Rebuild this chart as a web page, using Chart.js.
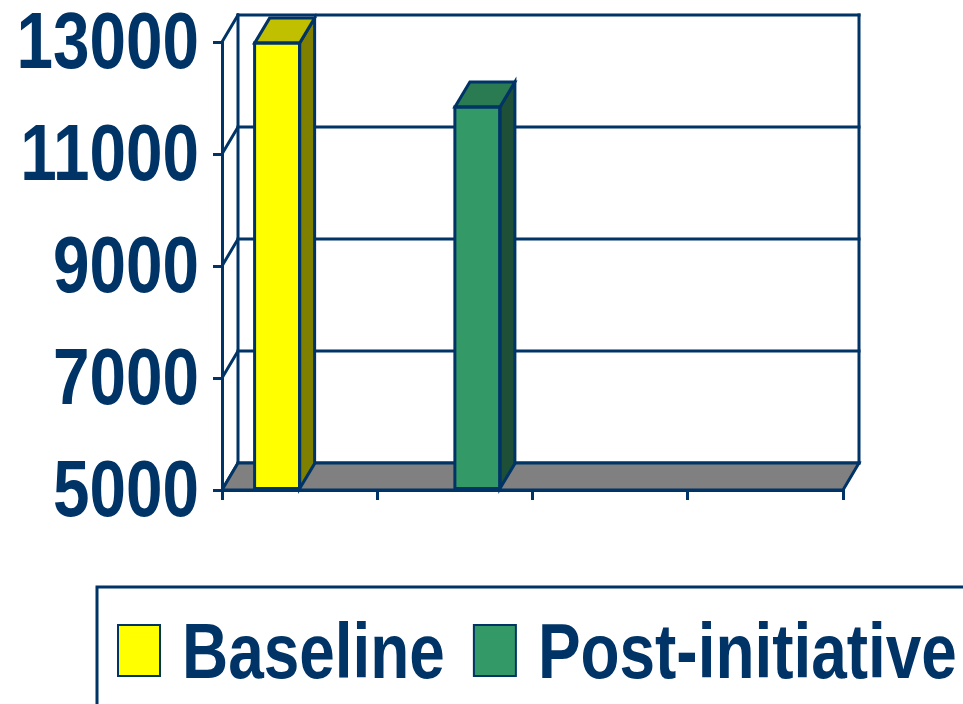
<!DOCTYPE html>
<html>
<head>
<meta charset="utf-8">
<script src="https://cdn.jsdelivr.net/npm/chart.js@4/dist/chart.umd.min.js"></script>
<style>
  html, body { margin: 0; padding: 0; background: #fff; }
  #wrap { width: 963px; height: 704px; position: relative; }
</style>
</head>
<body>
<div id="wrap"><canvas id="chart"></canvas></div>
<script>
// chart data
const categories = ['', '', '', ''];
const seriesNames = ['Baseline', 'Post-initiative'];
const baselineValues = [12980, null, null, null];
const postValues = [null, 11840, null, null];
const yTicks = [5000, 7000, 9000, 11000, 13000];

const navy = '#003366';
const FONT = '"Liberation Sans", Arial, sans-serif';
const LINE = 3;

// depth offsets for the 3d look
const floorDepth = { dx: 16, dy: 27 };
const barDepth = { dx: 15, dy: 25 };

const faceColors = [
  { front: '#FFFF00', top: '#C0C000', side: '#808000' },
  { front: '#339966', top: '#2A7A52', side: '#1E4F37' }
];

function poly(ctx, pts, fill) {
  ctx.beginPath();
  ctx.moveTo(pts[0][0], pts[0][1]);
  for (let i = 1; i < pts.length; i++) ctx.lineTo(pts[i][0], pts[i][1]);
  ctx.closePath();
  if (fill) { ctx.fillStyle = fill; ctx.fill(); }
  ctx.stroke();
}

function seg(ctx, x1, y1, x2, y2) {
  ctx.beginPath();
  ctx.moveTo(x1, y1);
  ctx.lineTo(x2, y2);
  ctx.stroke();
}

// condensed text, returns drawn width
function narrowText(ctx, text, x, y, align, squeeze) {
  const w = ctx.measureText(text).width * squeeze;
  ctx.save();
  ctx.translate(align === 'right' ? x - w : x, y);
  ctx.scale(squeeze, 1);
  ctx.textAlign = 'left';
  ctx.fillText(text, 0, 0);
  ctx.restore();
  return w;
}

// back wall, side wall and floor
const walls = {
  id: 'walls',
  beforeDatasetsDraw(chart) {
    const { ctx, chartArea: a, scales: { y } } = chart;
    const { dx, dy } = floorDepth;
    ctx.save();
    ctx.strokeStyle = navy;
    ctx.lineWidth = LINE;
    ctx.lineCap = 'square';
    yTicks.forEach(v => {
      const py = y.getPixelForValue(v);
      seg(ctx, a.left, py, a.left + dx, py - dy);
      seg(ctx, a.left + dx, py - dy, a.right + dx, py - dy);
    });
    const top = y.getPixelForValue(yTicks[yTicks.length - 1]) - dy;
    const bot = a.bottom - dy;
    seg(ctx, a.left + dx, top, a.left + dx, bot);
    seg(ctx, a.right + dx, top, a.right + dx, bot);
    ctx.lineJoin = 'miter';
    poly(ctx, [[a.left, a.bottom], [a.right, a.bottom], [a.right + dx, bot], [a.left + dx, bot]], '#808080');
    ctx.restore();
  }
};

// top and side faces of the columns
const columns3d = {
  id: 'columns3d',
  afterDatasetsDraw(chart) {
    const { ctx } = chart;
    const { dx, dy } = barDepth;
    ctx.save();
    ctx.strokeStyle = navy;
    ctx.lineWidth = LINE;
    ctx.lineJoin = 'miter';
    chart.data.datasets.forEach((ds, i) => {
      const meta = chart.getDatasetMeta(i);
      meta.data.forEach((el, j) => {
        if (ds.data[j] == null) return;
        const p = el.getProps(['x', 'y', 'base', 'width'], true);
        const l = p.x - p.width / 2, r = p.x + p.width / 2;
        const c = faceColors[i];
        poly(ctx, [[r, p.y], [r + dx, p.y - dy], [r + dx, p.base - dy], [r, p.base]], c.side);
        poly(ctx, [[l, p.y], [l + dx, p.y - dy], [r + dx, p.y - dy], [r, p.y]], c.top);
        poly(ctx, [[l, p.y], [r, p.y], [r, p.base], [l, p.base]], null);
      });
    });
    ctx.restore();
  }
};

// value labels on the front axis
const axisLabels = {
  id: 'axisLabels',
  afterDraw(chart) {
    const { ctx, scales: { y } } = chart;
    ctx.save();
    ctx.fillStyle = navy;
    ctx.font = 'bold 80px ' + FONT;
    ctx.textBaseline = 'alphabetic';
    y.ticks.forEach(t => {
      narrowText(ctx, String(t.value), 199, y.getPixelForValue(t.value) + 26, 'right', 0.82);
    });
    ctx.restore();
  }
};

// boxed legend under the plot
const boxLegend = {
  id: 'boxLegend',
  afterDraw(chart) {
    const { ctx } = chart;
    ctx.save();
    ctx.strokeStyle = navy;
    ctx.lineWidth = LINE;
    ctx.beginPath();
    ctx.moveTo(97, 720);
    ctx.lineTo(97, 587);
    ctx.lineTo(980, 587);
    ctx.stroke();

    ctx.font = 'bold 77px ' + FONT;
    ctx.textBaseline = 'alphabetic';
    let x = 118;
    chart.data.datasets.forEach(ds => {
      ctx.fillStyle = ds.backgroundColor;
      ctx.lineWidth = 2;
      ctx.fillRect(x, 625, 42, 51);
      ctx.strokeRect(x, 625, 42, 51);
      ctx.fillStyle = navy;
      const w = narrowText(ctx, ds.label, x + 64, 678, 'left', 0.83);
      x += 64 + w + 29;
    });
    ctx.restore();
  }
};

new Chart(document.getElementById('chart'), {
  type: 'bar',
  data: {
    labels: categories,
    datasets: [
      { label: seriesNames[0], data: baselineValues, backgroundColor: faceColors[0].front },
      { label: seriesNames[1], data: postValues, backgroundColor: faceColors[1].front }
    ]
  },
  options: {
    responsive: true,
    maintainAspectRatio: false,
    animation: false,
    events: [],
    layout: { padding: { top: 42, right: 120, bottom: 204, left: 0 } },
    datasets: {
      bar: { categoryPercentage: 0.58, barPercentage: 1, borderWidth: 0, base: yTicks[0] }
    },
    plugins: {
      legend: { display: false },
      tooltip: { enabled: false }
    },
    scales: {
      x: {
        grid: { drawOnChartArea: false, drawTicks: true, tickLength: 10, color: navy, lineWidth: LINE, offset: true },
        border: { display: true, color: navy, width: LINE },
        ticks: { display: false },
        afterFit: s => { s.height = 10; }
      },
      y: {
        min: 5000,
        max: 13000,
        afterBuildTicks: s => { s.ticks = yTicks.map(v => ({ value: v })); },
        grid: { drawOnChartArea: false, drawTicks: true, tickLength: 9, color: navy, lineWidth: LINE },
        border: { display: true, color: navy, width: LINE },
        ticks: { display: false },
        afterFit: s => { s.width = 222; s.paddingTop = 0; s.paddingBottom = 0; }
      }
    }
  },
  plugins: [walls, columns3d, axisLabels, boxLegend]
});
</script>
</body>
</html>
